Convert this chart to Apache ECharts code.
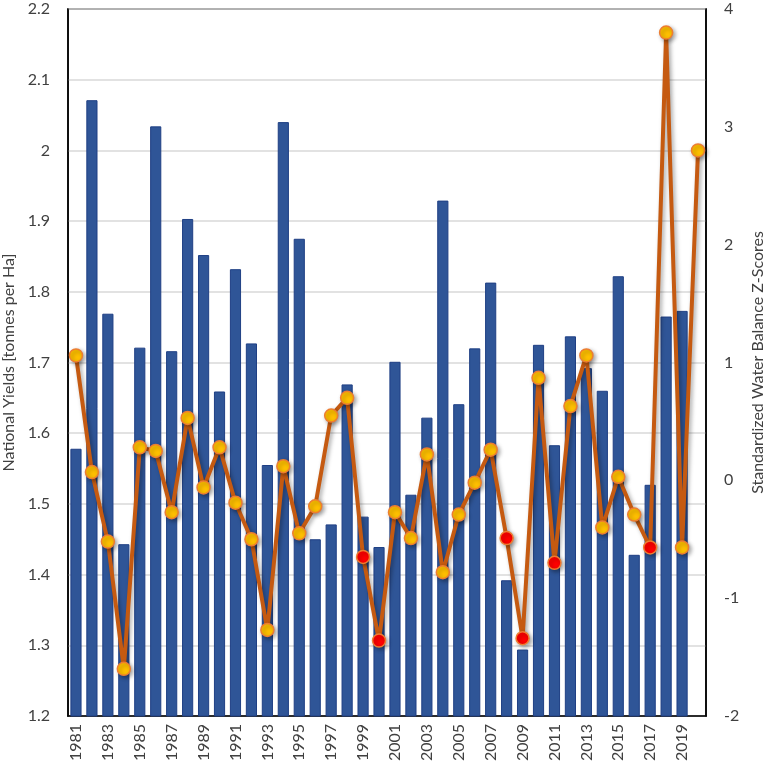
<!DOCTYPE html>
<html>
<head>
<meta charset="utf-8">
<script src="https://cdn.jsdelivr.net/npm/echarts@6/dist/echarts.min.js"></script>
<style>
  html, body { margin: 0; padding: 0; background: #fff; }
  #chart { width: 765px; height: 769px; }
</style>
</head>
<body>
<div id="chart"></div>
<script>
const years = [];
for (let y = 1981; y <= 2020; y++) years.push(String(y));

// national yields, tonnes per ha (no bar for 2020)
const yields = [
  1.578, 2.071, 1.769, 1.443, 1.721, 2.034, 1.716, 1.903, 1.852, 1.659,
  1.832, 1.727, 1.555, 2.040, 1.875, 1.450, 1.471, 1.669, 1.482, 1.439,
  1.701, 1.513, 1.622, 1.929, 1.641, 1.720, 1.813, 1.392, 1.294, 1.725,
  1.583, 1.737, 1.692, 1.660, 1.822, 1.428, 1.527, 1.765, 1.773, null
];

// standardized water balance z-scores
const zScores = [
  1.06, 0.07, -0.52, -1.60, 0.28, 0.25, -0.27, 0.53, -0.06, 0.28,
  -0.19, -0.50, -1.27, 0.12, -0.45, -0.22, 0.55, 0.70, -0.65, -1.36,
  -0.27, -0.49, 0.22, -0.78, -0.29, -0.02, 0.26, -0.49, -1.34, 0.87,
  -0.70, 0.63, 1.06, -0.40, 0.03, -0.29, -0.57, 3.80, -0.57, 2.80
];

// years drawn with a red marker
const redYears = ['1999', '2000', '2008', '2009', '2011', '2017'];

const font = 'Lato, "Noto Sans", sans-serif';

const chart = echarts.init(document.getElementById('chart'));
chart.setOption({
  animation: false,
  grid: {
    left: 68, right: 59, top: 9, bottom: 53,
    outerBoundsMode: 'none',
    show: true, borderColor: '#000', borderWidth: 1.5, backgroundColor: '#fff'
  },
  xAxis: {
    type: 'category',
    data: years,
    axisLine: { onZero: false, lineStyle: { color: '#000', width: 1.5 } },
    axisTick: { show: false },
    axisLabel: {
      interval: 1, rotate: 90, color: '#404040', fontSize: 16,
      fontFamily: font, margin: 8
    }
  },
  yAxis: [
    {
      type: 'value', min: 1.2, max: 2.2, interval: 0.1,
      name: 'National Yields [tonnes per Ha]',
      nameLocation: 'middle', nameGap: 46, nameRotate: 90,
      nameTextStyle: { color: '#404040', fontSize: 16, fontFamily: font },
      axisLine: { show: true, lineStyle: { color: '#000', width: 1.5 } },
      axisTick: { show: false },
      axisLabel: { color: '#404040', fontSize: 16, fontFamily: font, margin: 18 },
      splitLine: { lineStyle: { color: '#d9d9d9', width: 1.5 } }
    },
    {
      type: 'value', min: -2, max: 4, interval: 1,
      name: 'Standardized Water Balance Z-Scores',
      nameLocation: 'middle', nameGap: 44, nameRotate: 90,
      nameTextStyle: { color: '#404040', fontSize: 16, fontFamily: font },
      axisLine: { show: true, lineStyle: { color: '#000', width: 1.5 } },
      axisTick: { show: false },
      axisLabel: { color: '#404040', fontSize: 16, fontFamily: font, margin: 18 },
      splitLine: { show: false }
    }
  ],
  series: [
    {
      name: 'Yields',
      type: 'bar',
      data: yields,
      barWidth: '70%',
      itemStyle: { color: '#2f5597', borderColor: '#1f3f84', borderWidth: 1 }
    },
    {
      name: 'Z-Scores',
      type: 'line',
      yAxisIndex: 1,
      data: zScores.map((v, i) => ({
        value: v,
        itemStyle: { color: redYears.includes(years[i]) ? '#ff0000' : '#ffc000' }
      })),
      symbol: 'circle',
      symbolSize: 13,
      showAllSymbol: true,
      lineStyle: {
        color: '#c55a11', width: 4,
        shadowColor: 'rgba(0,0,0,0.35)', shadowBlur: 4, shadowOffsetX: 2, shadowOffsetY: 2
      },
      itemStyle: {
        borderColor: '#ed7d31', borderWidth: 1.5,
        shadowColor: 'rgba(0,0,0,0.35)', shadowBlur: 4, shadowOffsetX: 2, shadowOffsetY: 2
      },
      z: 5
    }
  ]
});
</script>
</body>
</html>
